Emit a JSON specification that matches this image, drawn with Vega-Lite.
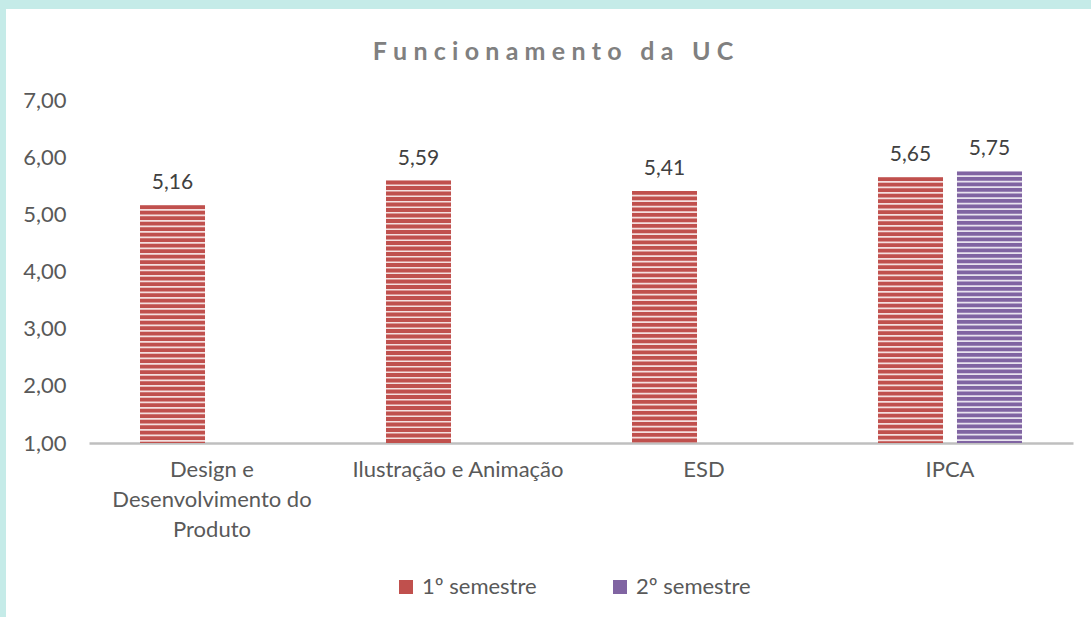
{
  "$schema": "https://vega.github.io/schema/vega-lite/v6.json",
  "autosize": "none",
  "width": 984,
  "height": 343,
  "padding": {"left": 89, "top": 100, "right": 18, "bottom": 174},
  "background": "#ffffff",
  "title": {
    "text": "F\u2005u\u2005n\u2005c\u2005i\u2005o\u2005n\u2005a\u2005m\u2005e\u2005n\u2005t\u2005o\u2005 \u2005d\u2005a\u2005 \u2005U\u2005C",
    "font": "Lato",
    "fontSize": 25,
    "fontWeight": "bold",
    "color": "#808080",
    "anchor": "middle",
    "baseline": "alphabetic",
    "dx": -28,
    "offset": -88
  },
  "data": {
    "values": [
      {"categoria": "Design e Desenvolvimento do Produto", "semestre": "1º semestre", "valor": 5.16},
      {"categoria": "Ilustração e Animação", "semestre": "1º semestre", "valor": 5.59},
      {"categoria": "ESD", "semestre": "1º semestre", "valor": 5.41},
      {"categoria": "IPCA", "semestre": "1º semestre", "valor": 5.65},
      {"categoria": "IPCA", "semestre": "2º semestre", "valor": 5.75}
    ]
  },
  "encoding": {
    "x": {
      "field": "categoria",
      "type": "nominal",
      "sort": null,
      "scale": {"paddingInner": 0, "paddingOuter": 0},
      "axis": {
        "title": null,
        "labelAngle": 0,
        "ticks": false,
        "domainColor": "#bfbfbf",
        "domainWidth": 2.5,
        "labelFont": "Lato",
        "labelFontSize": 22,
        "labelColor": "#595959",
        "labelPadding": 16,
        "labelLineHeight": 30,
        "labelBaseline": "top",
        "labelLimit": 300,
        "labelExpr": "datum.label == 'Design e Desenvolvimento do Produto' ? ['Design e', 'Desenvolvimento do', 'Produto'] : datum.label"
      }
    },
    "xOffset": {
      "field": "semestre",
      "type": "nominal",
      "scale": {"domain": ["1º semestre", "2º semestre"], "paddingInner": 0.177, "paddingOuter": 0.646}
    },
    "y": {
      "field": "valor",
      "type": "quantitative",
      "scale": {"domain": [1, 7], "nice": false, "zero": false},
      "axis": {
        "title": null,
        "values": [1, 2, 3, 4, 5, 6, 7],
        "format": ".2f",
        "grid": false,
        "domain": false,
        "ticks": false,
        "labelFont": "Lato",
        "labelFontSize": 22,
        "labelColor": "#595959",
        "labelPadding": 23
      }
    }
  },
  "layer": [
    {
      "mark": {"type": "bar", "opacity": 0.18},
      "encoding": {
        "y2": {"datum": 1},
        "color": {
          "field": "semestre",
          "type": "nominal",
          "scale": {"domain": ["1º semestre", "2º semestre"], "range": ["#c0504d", "#8064a2"]},
          "legend": {
            "title": "\u00a0",
            "titleFontSize": 10,
            "titlePadding": 168,
            "titleOrient": "top",
            "orient": "none",
            "direction": "horizontal",
            "legendX": -89,
            "legendY": -97,
            "padding": 395,
            "strokeColor": "#c5ebe8",
            "fillColor": null,
            "symbolType": "square",
            "symbolSize": 196,
            "symbolOpacity": 1,
            "symbolStrokeWidth": 0,
            "labelFont": "Lato",
            "labelFontSize": 22,
            "labelColor": "#595959",
            "labelOffset": 5,
            "columnPadding": 72
          }
        }
      }
    },
    {
      "mark": {"type": "rule", "strokeWidth": 65, "strokeDash": [3.8, 1.7]},
      "encoding": {
        "y2": {"datum": 1},
        "color": {"field": "semestre", "type": "nominal"}
      }
    },
    {
      "mark": {"type": "text", "baseline": "bottom", "dy": -12, "font": "Lato", "fontSize": 21, "color": "#404040"},
      "encoding": {
        "text": {"field": "valor", "type": "quantitative", "format": ".2f"}
      }
    }
  ],
  "config": {
    "locale": {"number": {"decimal": ",", "thousands": ".", "grouping": [3], "currency": ["", " €"]}},
    "view": {"stroke": null},
    "legend": {"strokeWidth": 12}
  }
}
